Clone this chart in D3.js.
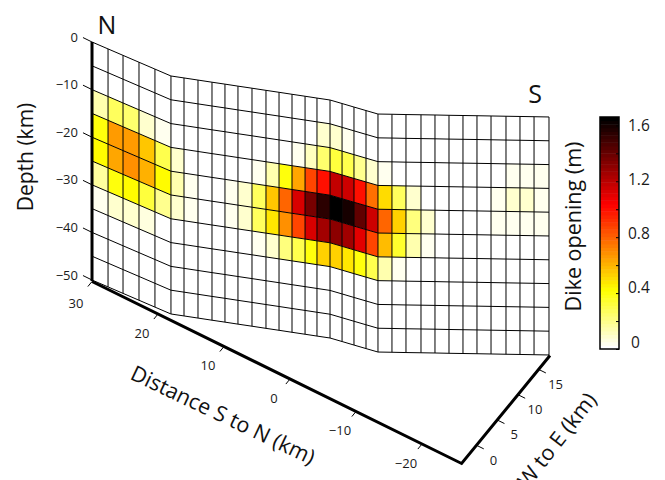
<!DOCTYPE html>
<html><head><meta charset="utf-8">
<script src="https://cdn.jsdelivr.net/npm/d3@7"></script>
<style>html,body{margin:0;padding:0;background:#fff;overflow:hidden}svg{display:block;font-family:"Open Sans",sans-serif}</style>
</head><body><svg id="c" width="665" height="480"></svg>
<script>
// Dike trace: map position of each grid column edge (km)
const colDist=[30.13,27.79,25.60,23.27,20.94,18.60,17.02,15.32,13.62,12.05,10.47,8.77,7.07,5.49,3.91,2.33,0.88,-0.70,-2.31,-3.91,-5.52,-7.12,-8.65,-10.19,-11.83,-13.36,-14.90,-16.43,-17.96,-19.50,-21.14,-22.67,-24.21,-25.85];
const colEast=[-3.39,-3.25,-3.12,-2.98,-2.84,-2.70,-2.07,-1.40,-0.73,-0.10,0.52,1.20,1.87,2.50,3.12,3.75,4.32,4.95,5.29,5.62,5.96,6.30,7.24,8.17,9.18,10.12,11.05,11.99,12.93,13.87,14.87,15.81,16.75,17.75];
const rowDepth=[0,-5,-10,-15,-20,-25,-30,-35,-40,-45,-50];
// Opening (m), one array per depth row, 33 columns N to S
const row0=[0,0,0,0,0,0,0,0,0,0,0,0,0,0,0,0,0,0,0,0,0,0,0,0,0,0,0,0,0,0,0,0,0];
const row1=[0,0,0,0,0,0,0,0,0,0,0,0,0,0,0,0.02,0.08,0.10,0.05,0.01,0,0,0,0,0,0,0,0,0,0,0,0,0];
const row2=[0.15,0.27,0.25,0.10,0.03,0,0,0,0,0,0,0,0,0,0.03,0.12,0.25,0.33,0.30,0.20,0.09,0.03,0,0,0,0,0,0,0,0,0.03,0.04,0.03];
const row3=[0.41,0.65,0.66,0.55,0.30,0.10,0,0,0,0,0,0.03,0.15,0.40,0.63,0.88,1.00,1.17,1.15,1.00,0.77,0.50,0.28,0.08,0,0,0,0,0,0.05,0.08,0.09,0.05];
const row4=[0.42,0.63,0.70,0.60,0.43,0.15,0.04,0,0,0.03,0.09,0.28,0.55,0.80,1.12,1.35,1.55,1.65,1.60,1.42,1.15,0.80,0.52,0.22,0.08,0,0,0,0.02,0.05,0.05,0.05,0.03];
const row5=[0.18,0.40,0.44,0.33,0.20,0.08,0.03,0,0,0.03,0.09,0.26,0.48,0.68,0.88,1.12,1.25,1.30,1.27,1.10,0.86,0.58,0.36,0.15,0.03,0,0,0,0,0,0,0,0];
const row6=[0.05,0.09,0.08,0.06,0,0,0,0,0,0,0.01,0.04,0.10,0.22,0.30,0.40,0.52,0.52,0.47,0.40,0.30,0.15,0.05,0,0,0,0,0,0,0,0,0,0];
const row7=[0,0,0,0,0,0,0,0,0,0,0,0,0,0,0,0,0,0,0,0,0,0,0,0,0,0,0,0,0,0,0,0,0];
const row8=row7, row9=row7;
const openingRows=[row0,row1,row2,row3,row4,row5,row6,row7,row8,row9];
// Axis ticks
const distTicks=[30,20,10,0,-10,-20];
const eastTicks=[0,5,10,15];
const depthTicks=[0,-10,-20,-30,-40,-50];
const barTicks=[0,0.2,0.4,0.6,0.8,1.0,1.2,1.4,1.6];
const barLabels=[0,0.4,0.8,1.2,1.6];
const openingMax=1.66;

// Oblique projection built from linear scales
const dx=d3.scaleLinear().domain([0,10]).range([0,-66]);
const dy=d3.scaleLinear().domain([0,10]).range([0,-32.5]);
const ex=d3.scaleLinear().domain([-3.6,1.4]).range([0,20.7]);
const ey=d3.scaleLinear().domain([-3.6,1.4]).range([0,-25.3]);
const zy=d3.scaleLinear().domain([-50,0]).range([0,-238]);
const PX=(d,e)=>290+dx(d)+ex(e);
const PY=(d,e,z)=>379+dy(d)+ey(e)+zy(z);
const minus=v=>(v<0?"\u2212"+(-v):""+v);

function hot(v){
  const lev=Math.min(63,Math.floor(v/openingMax*64));
  const t=lev/63, s=1-t;
  const c=x=>Math.round(255*Math.max(0,Math.min(1,x)));
  return d3.rgb(c(s/0.375),c((s-0.375)/0.375),c((s-0.75)/0.25));
}
const svg=d3.select("#c");
// cells
const cells=[];
openingRows.forEach((r,i)=>r.forEach((v,j)=>cells.push({i,j,v})));
const cellPath=c=>{
  const a=[[c.j,rowDepth[c.i]],[c.j+1,rowDepth[c.i]],[c.j+1,rowDepth[c.i+1]],[c.j,rowDepth[c.i+1]]];
  return "M"+a.map(p=>[PX(colDist[p[0]],colEast[p[0]]),PY(colDist[p[0]],colEast[p[0]],p[1])].join(",")).join("L")+"Z";
};
svg.append("g").selectAll("path").data(cells).join("path")
 .attr("d",cellPath).attr("fill",c=>hot(c.v)).attr("stroke","none");
// grid
const grid=svg.append("g").attr("fill","none").attr("stroke","#000").attr("stroke-width",1);
const line=d3.line();
rowDepth.forEach(z=>grid.append("path").attr("d",line(colDist.map((d,k)=>[PX(d,colEast[k]),PY(d,colEast[k],z)]))));
colDist.forEach((d,k)=>grid.append("path")
  .attr("d",line([[PX(d,colEast[k]),PY(d,colEast[k],0)],[PX(d,colEast[k]),PY(d,colEast[k],-50)]])));
// axes
const ax=svg.append("g").attr("fill","none").attr("stroke","#000");
const dStart=30.0,dEnd=-26,eStart=-3.6,eEnd=17.75;
ax.append("path").attr("stroke-width",3).attr("stroke-linejoin","miter")
 .attr("d",line([[PX(dStart,eStart),PY(dStart,eStart,-50)],[PX(dEnd,eStart),PY(dEnd,eStart,-50)],[PX(dEnd,eEnd),PY(dEnd,eEnd,-50)]]));
ax.append("path").attr("stroke-width",3)
 .attr("d",line([[PX(30.13,-3.39),PY(30.13,-3.39,0)],[PX(30.13,-3.39),PY(30.13,-3.39,-50)+1]]));
const tick=ax.append("g").attr("stroke-width",1);
const txt=svg.append("g").attr("fill","#1a1a1a").attr("font-size",13);
distTicks.forEach(t=>{
  const x=PX(t,eStart),y=PY(t,eStart,-50);
  tick.append("path").attr("d",line([[x,y],[PX(t,eStart-1),PY(t,eStart-1,-50)]]));
  txt.append("text").attr("x",x-16).attr("y",y+(t===30?22:19)+4.5).attr("text-anchor","middle").text(minus(t));
});
eastTicks.forEach(t=>{
  const x=PX(dEnd+0,t),y=PY(dEnd+0,t,-50);
  tick.append("path").attr("d",line([[x,y],[PX(dEnd-1.1,t),PY(dEnd-1.1,t,-50)]]));
  txt.append("text").attr("x",x+17).attr("y",y+15+4.5).attr("text-anchor","middle").text(t);
});
depthTicks.forEach(t=>{
  const x=PX(30.13,-3.39),y=PY(30.13,-3.39,t);
  tick.append("path").attr("d",line([[x,y],[PX(31.5,-3.39),PY(31.5,-3.39,t)]]));
  txt.append("text").attr("x",x-14).attr("y",y-5+4.5).attr("text-anchor","end").text(minus(t));
});
// corner letters and titles
const title=svg.append("g").attr("fill","#111");
title.append("text").attr("x",107).attr("y",34).attr("font-size",25).attr("text-anchor","middle").text("N");
title.append("text").attr("x",535).attr("y",103).attr("font-size",25).attr("text-anchor","middle").text("S");
const rot=(x,y,a,s,fs)=>title.append("text").attr("transform",`translate(${x},${y}) rotate(${a})`).attr("text-anchor","middle").attr("font-size",fs).attr("dy","0.35em").text(s);
rot(26,157,-90,"Depth (km)",21);
rot(223,415,25.5,"Distance S to N (km)",21.5);
rot(557,440,-52,"W to E (km)",21.5);
rot(573,226.5,-90,"Dike opening (m)",21.5);
// colourbar
const by=d3.scaleLinear().domain([0,openingMax]).range([349,117]);
const levels=d3.range(64);
svg.append("g").selectAll("rect").data(levels).join("rect")
 .attr("x",600).attr("width",19)
 .attr("y",l=>by((l+1)*openingMax/64)).attr("height",l=>by(l*openingMax/64)-by((l+1)*openingMax/64)+0.5)
 .attr("fill",l=>hot((l+0.5)*openingMax/64));
svg.append("rect").attr("x",600).attr("y",117).attr("width",19).attr("height",232).attr("fill","none").attr("stroke","#000").attr("stroke-width",1.5);
const barAxis=d3.axisRight(by).tickValues(barTicks).tickSize(-3).tickFormat("");
const bg=svg.append("g").attr("transform","translate(619,0)").call(barAxis);
bg.select(".domain").remove();
const labelY=d3.scaleLinear().domain([0,1.6]).range([342,125]);
svg.append("g").attr("fill","#1a1a1a").attr("font-size",15.5).selectAll("text").data(barLabels).join("text")
 .attr("x",l=>l===0?631:628).attr("y",l=>labelY(l)).attr("dy","0.36em").text(l=>l===0?"0":l.toFixed(1));
</script></body></html>
